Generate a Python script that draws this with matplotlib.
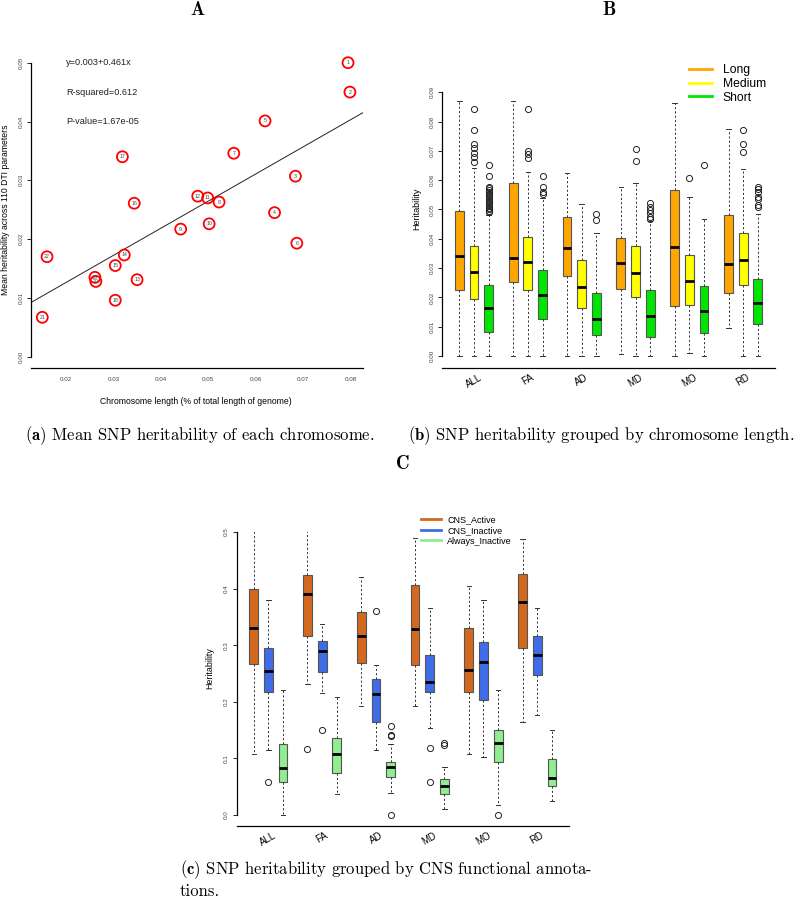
import matplotlib.pyplot as plt
from matplotlib.lines import Line2D

# ---- panel A: chromosome length vs mean heritability
chrom = [str(i) for i in range(1, 23)]
chrom_len = [0.0795, 0.0799, 0.0684, 0.0640, 0.0620, 0.0687, 0.0554, 0.0523, 0.0442, 0.0502,
             0.0499, 0.0478, 0.0350, 0.0323, 0.0304, 0.0344, 0.0319, 0.0304, 0.0261, 0.0263,
             0.0150, 0.0160]
mean_h2 = [0.0500, 0.0450, 0.0307, 0.0245, 0.0401, 0.0193, 0.0346, 0.0263, 0.0217, 0.0226,
           0.0270, 0.0273, 0.0131, 0.0173, 0.0155, 0.0261, 0.0340, 0.0096, 0.0135, 0.0128,
           0.0067, 0.0170]
fit_intercept = 0.0034
fit_slope = 0.461
fit_text = ['y=0.003+0.461x', 'R-squared=0.612', 'P-value=1.67e-05']
fit_text_y = [0.050, 0.045, 0.040]

# ---- shared group labels for B and C
groups = ['ALL', 'FA', 'AD', 'MD', 'MO', 'RD']

# ---- panel B: grouped by chromosome length (per group: Long, Medium, Short)
b_series = ['Long', 'Medium', 'Short']
b_colors = ['#FFA500', '#FFFF00', '#00E600']
b_whishi = [0.0870, 0.0643, 0.0482, 0.0870, 0.0628, 0.0538, 0.0626, 0.0519, 0.0421,
            0.0577, 0.0592, 0.0460, 0.0863, 0.0544, 0.0468, 0.0774, 0.0637, 0.0484]
b_q3 = [0.0495, 0.0377, 0.0242, 0.0589, 0.0406, 0.0292, 0.0473, 0.0327, 0.0216,
        0.0404, 0.0374, 0.0226, 0.0565, 0.0346, 0.0239, 0.0482, 0.0419, 0.0264]
b_med = [0.0340, 0.0288, 0.0165, 0.0336, 0.0322, 0.0207, 0.0367, 0.0235, 0.0125,
         0.0319, 0.0284, 0.0137, 0.0371, 0.0257, 0.0154, 0.0315, 0.0328, 0.0182]
b_q1 = [0.0226, 0.0193, 0.0083, 0.0251, 0.0224, 0.0127, 0.0272, 0.0163, 0.0071,
        0.0230, 0.0203, 0.0064, 0.0170, 0.0174, 0.0078, 0.0214, 0.0241, 0.0110]
b_whislo = [0.0, 0.0, 0.0, 0.0, 0.0, 0.0, 0.0, 0.0, 0.0,
            0.0006, 0.0, 0.0, 0.0, 0.0011, 0.0, 0.0094, 0.0, 0.0]
b_fliers = [
    [], [0.0843, 0.0772, 0.0725, 0.0709, 0.0694, 0.0680, 0.0663],
    [0.0651, 0.0613, 0.0578, 0.0572, 0.0566, 0.0560, 0.0554, 0.0548, 0.0542, 0.0536,
     0.0530, 0.0524, 0.0518, 0.0512, 0.0506, 0.0500, 0.0495, 0.0490],
    [], [0.0843, 0.0700, 0.0688, 0.0677], [0.0613, 0.0578, 0.0561, 0.0553],
    [], [], [0.0486, 0.0465],
    [], [0.0706, 0.0664], [0.0521, 0.0510, 0.0498, 0.0487, 0.0476, 0.0466],
    [], [0.0609], [0.0651],
    [], [0.0772, 0.0725, 0.0696], [0.0578, 0.0570, 0.0561, 0.0544, 0.0535, 0.0515, 0.0510],
]

# ---- panel C: grouped by CNS annotation (per group: Active, Inactive, Always)
c_series = ['CNS_Active', 'CNS_Inactive', 'Always_Inactive']
c_colors = ['#D2691E', '#3F6CE8', '#90EE90']
c_whishi = [0.511, 0.379, 0.221, 0.511, 0.338, 0.208, 0.421, 0.265, 0.125,
            0.490, 0.366, 0.085, 0.405, 0.379, 0.221, 0.488, 0.365, 0.150]
c_q3 = [0.400, 0.295, 0.125, 0.424, 0.307, 0.136, 0.359, 0.241, 0.094,
        0.407, 0.283, 0.063, 0.330, 0.306, 0.151, 0.426, 0.316, 0.099]
c_med = [0.331, 0.254, 0.083, 0.390, 0.290, 0.107, 0.317, 0.213, 0.084,
         0.328, 0.235, 0.051, 0.257, 0.271, 0.127, 0.377, 0.283, 0.066]
c_q1 = [0.266, 0.217, 0.058, 0.317, 0.252, 0.075, 0.268, 0.165, 0.067,
        0.265, 0.218, 0.038, 0.218, 0.203, 0.094, 0.295, 0.247, 0.051]
c_whislo = [0.108, 0.114, 0.0, 0.232, 0.216, 0.038, 0.193, 0.114, 0.039,
            0.192, 0.153, 0.011, 0.108, 0.102, 0.018, 0.165, 0.176, 0.024]
c_fliers = [[], [0.058], [], [0.116], [0.150], [], [], [0.360], [0.158, 0.142, 0.140, 0.0],
            [], [0.118, 0.058], [0.127, 0.123], [], [], [0.0], [], [], []]

W, H = 800, 915
plt.rcParams['mathtext.fontset'] = 'cm'
sans = ['Liberation Sans', 'DejaVu Sans']
fig = plt.figure(figsize=(W / 100, H / 100), dpi=100)


def px_axes(l, t, r, b):
    return fig.add_axes([l / W, 1 - b / H, (r - l) / W, (b - t) / H])


def fx(x):
    return x / W


def fy(y):
    return 1 - y / H


def r_style(ax, ylo, yhi):
    for s in ['top', 'right']:
        ax.spines[s].set_visible(False)
    ax.spines['left'].set_bounds(ylo, yhi)
    ax.spines['left'].set_linewidth(0.9)
    ax.spines['bottom'].set_linewidth(0.9)
    ax.tick_params(axis='y', labelrotation=90, labelsize=4.5, length=3, width=0.6,
                   pad=2.5, labelcolor='#444444')
    for t in ax.get_yticklabels():
        t.set_family(sans)
        t.set_va('center')


# ================= panel A
axA = px_axes(31, 62.7, 363, 367.7)
axA.set_xlim(0.01262, 0.08266)
axA.set_ylim(-0.00187, 0.05)
xs = list(axA.get_xlim())
axA.plot(xs, [fit_intercept + fit_slope * x for x in xs], color='#222222', lw=0.7)
axA.scatter(chrom_len, mean_h2, s=62, facecolors='none', edgecolors='red',
            linewidths=1.3, clip_on=False, zorder=3)
for lab, x, y in zip(chrom, chrom_len, mean_h2):
    axA.text(x, y, lab, fontsize=3.8, ha='center', va='center', color='#444444',
             family=sans, zorder=4)
for txt, ty in zip(fit_text, fit_text_y):
    axA.text(0.0201, ty, txt, fontsize=6.6, ha='left', va='center', family=sans,
             color='#222222')
axA.set_xticks([0.02, 0.03, 0.04, 0.05, 0.06, 0.07, 0.08])
axA.set_xticklabels(['0.02', '0.03', '0.04', '0.05', '0.06', '0.07', '0.08'], family=sans)
axA.set_yticks([0.0, 0.01, 0.02, 0.03, 0.04, 0.05])
axA.set_yticklabels(['0.00', '0.01', '0.02', '0.03', '0.04', '0.05'])
axA.tick_params(axis='x', labelsize=4.5, length=0, pad=7, labelcolor='#444444')
r_style(axA, 0.0, 0.05)
fig.text(fx(196), fy(402), 'Chromosome length (% of total length of genome)', fontsize=6.2,
         ha='center', va='center', family=sans)
fig.text(fx(6), fy(210), 'Mean heritability across 110 DTI parameters', fontsize=6.2,
         ha='center', va='center', rotation=90, family=sans)


# ================= grouped boxplots (B and C)
def grouped_box(ax, whislo, q1, med, q3, whishi, fliers, colors):
    stats, pos, faces = [], [], []
    for i in range(len(med)):
        g, j = divmod(i, 3)
        stats.append(dict(whislo=whislo[i], q1=q1[i], med=med[i], q3=q3[i],
                          whishi=whishi[i], fliers=fliers[i]))
        pos.append(g * 3.667 + j)
        faces.append(colors[j])
    bp = ax.bxp(stats, positions=pos, widths=0.6, patch_artist=True, manage_ticks=False,
                capwidths=0.3,
                boxprops=dict(edgecolor='#555555', linewidth=0.8),
                whiskerprops=dict(color='#333333', linewidth=0.7, linestyle=(0, (2.2, 2.2))),
                capprops=dict(color='#333333', linewidth=0.7),
                medianprops=dict(color='black', linewidth=2.0, solid_capstyle='butt'),
                flierprops=dict(marker='o', markersize=4.4, markerfacecolor='none',
                                markeredgecolor='#222222', markeredgewidth=0.7))
    for patch, fc in zip(bp['boxes'], faces):
        patch.set_facecolor(fc)
    ax.set_xlim(-1.16, 21.5)
    ax.set_xticks([g * 3.667 + 1 for g in range(len(groups))])
    ax.set_xticklabels(groups, rotation=30, ha='center', va='top', family=sans)
    ax.tick_params(axis='x', labelsize=7, length=0, pad=3)


# ================= panel B
axB = px_axes(442.3, 92.3, 775, 368.3)
grouped_box(axB, b_whislo, b_q1, b_med, b_q3, b_whishi, b_fliers, b_colors)
axB.set_ylim(-0.0042, 0.09)
axB.set_yticks([i / 100 for i in range(10)])
axB.set_yticklabels(['%.2f' % (i / 100) for i in range(10)])
r_style(axB, 0.0, 0.09)
fig.text(fx(417), fy(209), 'Heritability', fontsize=6.5, rotation=90, ha='center',
         va='center', family=sans)
hB = [Line2D([], [], color=c, lw=2) for c in b_colors]
axB.legend(hB, b_series, loc='upper left', bbox_to_anchor=(fx(689), fy(64)),
           bbox_transform=fig.transFigure, frameon=False, prop=dict(family=sans, size=8.7),
           handlelength=1.9, handletextpad=0.9, labelspacing=0.15, borderpad=0,
           borderaxespad=0)

# ================= panel C
axC = px_axes(236.7, 532, 569, 826)
grouped_box(axC, c_whislo, c_q1, c_med, c_q3, c_whishi, c_fliers, c_colors)
axC.set_ylim(-0.0194, 0.5)
axC.set_yticks([i / 10 for i in range(6)])
axC.set_yticklabels(['%.1f' % (i / 10) for i in range(6)])
r_style(axC, 0.0, 0.5)
fig.text(fx(210), fy(668), 'Heritability', fontsize=6.4, rotation=90, ha='center',
         va='center', family=sans)
hC = [Line2D([], [], color=c, lw=2) for c in c_colors]
axC.legend(hC, c_series, loc='upper left', bbox_to_anchor=(fx(421), fy(515)),
           bbox_transform=fig.transFigure, frameon=False, prop=dict(family=sans, size=6.5),
           handlelength=2.2, handletextpad=0.7, labelspacing=0.2, borderpad=0,
           borderaxespad=0)

# ================= panel letters and captions
for letter, x, y in [('A', 197, 10), ('B', 609, 10), ('C', 403, 464)]:
    fig.text(fx(x), fy(y), letter, fontsize=13.5, family='cmb10', ha='center', va='center')
cap = dict(fontsize=12, family='cmr10', va='center')
fig.text(fx(200), fy(436), r'$\mathbf{(a)}$ Mean SNP heritability of each chromosome.',
         ha='center', **cap)
fig.text(fx(601), fy(436), r'$\mathbf{(b)}$ SNP heritability grouped by chromosome length.',
         ha='center', **cap)
fig.text(fx(180), fy(870), r'$\mathbf{(c)}$ SNP heritability grouped by CNS functional annota-',
         ha='left', **cap)
fig.text(fx(180), fy(891), 'tions.', ha='left', **cap)

fig.savefig('out.png', dpi=100)
